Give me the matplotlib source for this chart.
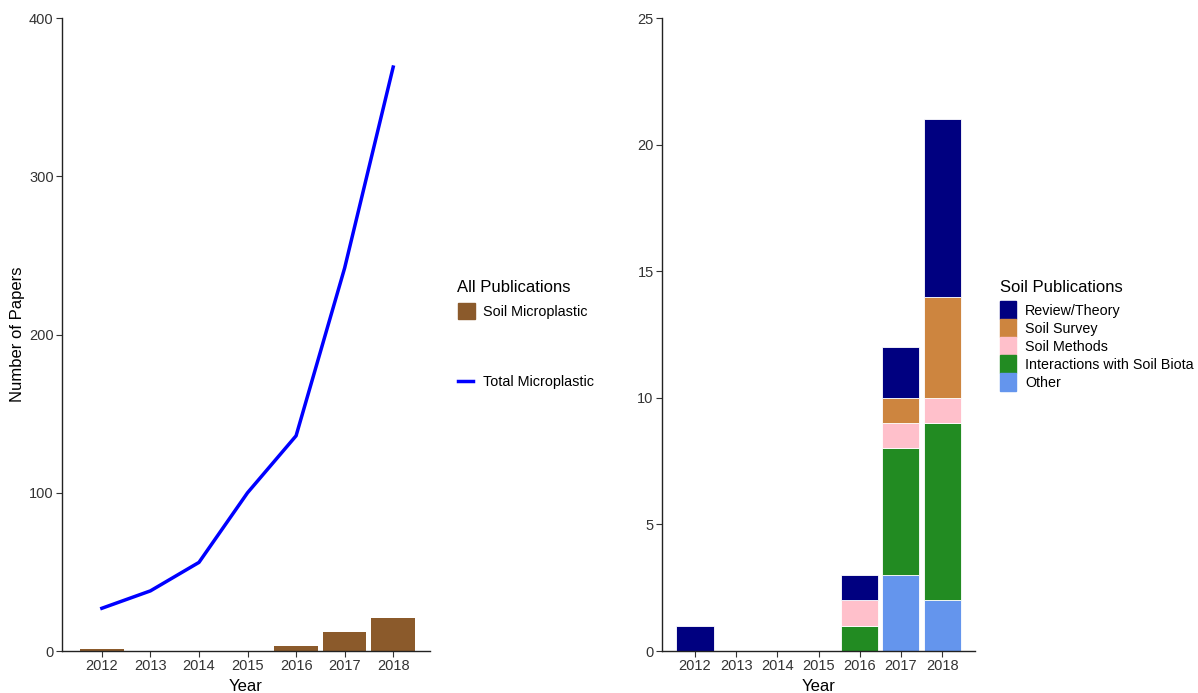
import matplotlib.pyplot as plt
from matplotlib.patches import Patch
from matplotlib.lines import Line2D

plt.rcParams['font.family'] = ['Liberation Sans', 'DejaVu Sans']

years = [2012, 2013, 2014, 2015, 2016, 2017, 2018]
total_micro = [27, 38, 56, 100, 136, 242, 369]
soil_micro = [1, 0, 0, 0, 3, 12, 21]

# soil publications by category (stack order bottom -> top)
other = [0, 0, 0, 0, 0, 3, 2]
biota = [0, 0, 0, 0, 1, 5, 7]
methods = [0, 0, 0, 0, 1, 1, 1]
survey = [0, 0, 0, 0, 0, 1, 4]
review = [1, 0, 0, 0, 1, 2, 7]

stack = [('Other', other, '#6495ED'),
         ('Interactions with Soil Biota', biota, '#228B22'),
         ('Soil Methods', methods, '#FFC0CB'),
         ('Soil Survey', survey, '#CD853F'),
         ('Review/Theory', review, '#000080')]

txt = '#333333'
W, H = 1198, 693
fig = plt.figure(figsize=(W / 100, H / 100), dpi=100)
ax1 = fig.add_axes([0.0518, 0.0606, 0.3072, 0.9134])
ax2 = fig.add_axes([0.5526, 0.0606, 0.2613, 0.9134])

ax1.bar(years, soil_micro, width=0.9, color='#8B5A2B')
ax1.plot(years, total_micro, color='#0000FF', lw=2.5)
ax1.set_ylim(0, 400)
ax1.set_xlim(2011.18, 2018.76)
ax1.set_yticks([0, 100, 200, 300, 400])
ax1.set_ylabel('Number of Papers', fontsize=12, color='black', labelpad=3)

bottom = [0] * len(years)
for name, vals, col in stack:
    ax2.bar(years, vals, width=0.9, bottom=bottom, color=col,
            edgecolor='white', linewidth=0.6)
    bottom = [b + v for b, v in zip(bottom, vals)]
ax2.set_ylim(0, 25)
ax2.set_xlim(2011.2, 2018.8)
ax2.set_yticks([0, 5, 10, 15, 20, 25])

for ax in (ax1, ax2):
    ax.set_xticks(years)
    ax.set_xlabel('Year', fontsize=12, color='black', labelpad=4)
    ax.spines['top'].set_visible(False)
    ax.spines['right'].set_visible(False)
    for s in ('left', 'bottom'):
        ax.spines[s].set_color('#222222')
        ax.spines[s].set_linewidth(1.0)
    ax.tick_params(labelsize=10.5, labelcolor=txt, color='#333333', length=4, pad=2)

# legend titles as plain text, entries as title-less legends
fig.text(457 / W, 1 - 288 / H, 'All Publications', fontsize=12, va='center', ha='left')
fig.text(1000 / W, 1 - 288 / H, 'Soil Publications', fontsize=12, va='center', ha='left')

fig.legend(handles=[Patch(color='#8B5A2B', label='Soil Microplastic')],
           loc='center left', bbox_to_anchor=(458 / W, 1 - 311 / H),
           frameon=False, fontsize=10.4, handlelength=1.15, handleheight=1.43,
           handletextpad=0.55, borderaxespad=0, borderpad=0)
fig.legend(handles=[Line2D([], [], color='#0000FF', lw=2.5, label='Total Microplastic')],
           loc='center left', bbox_to_anchor=(458 / W, 1 - 382 / H),
           frameon=False, fontsize=10.4, handlelength=1.05, handletextpad=0.7,
           borderaxespad=0, borderpad=0)

handles2 = [Patch(color=c, label=n) for n, v, c in stack[::-1]]
fig.legend(handles=handles2, loc='center left',
           bbox_to_anchor=(1000 / W, 1 - 346 / H), frameon=False,
           fontsize=10.3, handlelength=1.15, handleheight=1.56,
           handletextpad=0.62, labelspacing=0.0, borderaxespad=0, borderpad=0)

fig.savefig('out.png', dpi=100)
